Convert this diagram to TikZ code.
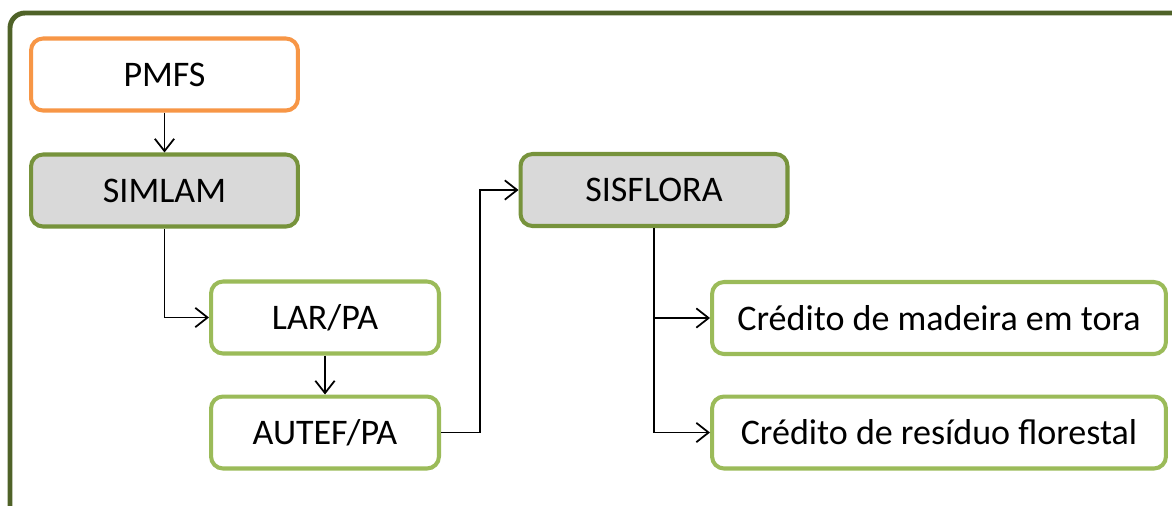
\documentclass[tikz,border=0pt]{standalone}
\usepackage{fontspec}
\setmainfont{Carlito}
\usepackage{xcolor}
\usetikzlibrary{arrows.meta}

\definecolor{framegreen}{HTML}{4F6228}
\definecolor{darkgreen}{HTML}{77933C}
\definecolor{lightgreen}{HTML}{9BBB59}
\definecolor{boxorange}{HTML}{F79646}
\definecolor{boxgray}{HTML}{D9D9D9}

\begin{document}
\begin{tikzpicture}[x=0.02cm,y=-0.02cm,
  box/.style={draw, rounded corners=0.24cm, line width=2.3pt, fill=white,
    minimum height=1.44cm, inner sep=0pt, font=\fontsize{20.5}{24}\selectfont},
  srcbox/.style={box, draw=boxorange, minimum width=5.34cm},
  sysbox/.style={box, draw=darkgreen, fill=boxgray, minimum width=5.34cm},
  docbox/.style={box, draw=lightgreen, minimum width=4.56cm},
  credbox/.style={box, draw=lightgreen, minimum width=9.08cm},
  link/.style={->, line width=1pt},
  >={Straight Barb[length=7pt,width=11pt]}]

\useasboundingbox (0,0) rectangle (1172,505);
\clip (0,0) rectangle (1172,505);

% outer frame
\draw[framegreen, line width=2.8pt, rounded corners=0.3cm] (10,13) rectangle (1210,540);

\node[srcbox] (pmfs) at (164.5,74.5) {PMFS};
\node[sysbox] (simlam) at (164.5,190.5) {SIMLAM};
\node[docbox] (lar) at (325,317.5) {LAR/PA};
\node[docbox] (autef) at (325,432.5) {AUTEF/PA};
\node[sysbox] (sisflora) at (654,190) {SISFLORA};
\node[credbox] (madeira) at (939,318) {Crédito de madeira em tora};
\node[credbox] (residuo) at (939,432.5) {Crédito de resíduo florestal};

\coordinate (bend) at (480,300);

\draw[link] (pmfs) -- (simlam);
\draw[link] (simlam) |- (lar);
\draw[link] (lar) -- (autef);
\draw[link] (autef.east) -- (autef.east -| bend) |- (sisflora);
\draw[link] (sisflora) |- (madeira);
\draw[link] (sisflora) |- (residuo);

\end{tikzpicture}
\end{document}
